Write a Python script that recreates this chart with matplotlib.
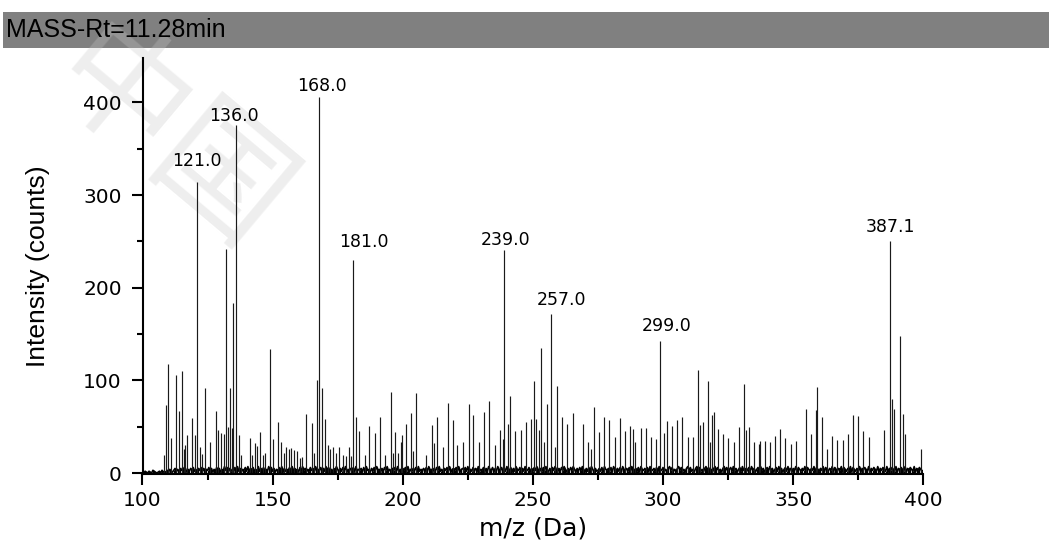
#!/usr/bin/env python
"""Mass spectrum at Rt=11.28 min, redrawn as a stick plot."""

import matplotlib

matplotlib.use("Agg")
import matplotlib.pyplot as plt
import numpy as np
from matplotlib.patches import Rectangle
from matplotlib.ticker import MultipleLocator

TITLE = "MASS-Rt=11.28min"
WATERMARK = "中国"

# labelled peaks (m/z, counts)
label_mz = [121.0, 136.0, 168.0, 181.0, 239.0, 257.0, 299.0, 387.1]
label_int = [314, 375, 406, 230, 241, 172, 142, 250]

# the rest of the stick peaks
peak_mz = [
    108.1, 109.1, 109.9, 111.0, 113.0, 114.0, 115.1, 115.9, 116.3, 117.0,
    119.2, 120.0, 122.2, 123.0, 124.2, 126.0, 128.3, 129.0, 130.1, 131.2,
    132.2, 133.0, 133.8, 134.2, 134.9, 137.2, 138.0, 141.2, 142.0, 143.2,
    144.0, 145.1, 146.3, 147.2, 149.1, 150.0, 152.2, 153.2, 154.2, 155.3,
    156.2, 157.2, 158.2, 159.2, 160.4, 161.4, 163.0, 165.3, 166.0, 167.2,
    169.1, 170.1, 171.3, 172.2, 173.2, 174.2, 175.4, 177.0, 178.1, 179.2,
    180.3, 182.0, 183.3, 185.3, 187.2, 189.2, 191.2, 193.1, 195.3, 196.3,
    197.2, 198.3, 199.2, 199.6, 201.3, 203.2, 204.0, 205.0, 209.1, 211.4,
    212.0, 213.2, 215.3, 217.3, 219.2, 221.0, 223.3, 225.3, 227.0, 229.4,
    231.3, 233.3, 235.3, 237.3, 238.4, 240.3, 241.3, 243.2, 245.3, 247.3,
    249.2, 250.3, 251.3, 252.2, 253.3, 254.2, 255.3, 258.3, 259.4, 261.2,
    263.2, 265.3, 269.4, 271.3, 272.3, 273.5, 275.4, 277.3, 279.2, 281.4,
    283.5, 285.4, 287.4, 288.3, 289.3, 291.4, 293.5, 295.4, 297.4, 300.4,
    301.4, 303.5, 305.4, 307.3, 309.5, 311.4, 313.5, 314.1, 315.2, 317.1,
    318.2, 319.0, 319.4, 321.1, 323.0, 325.0, 327.1, 329.1, 331.1, 332.0,
    333.1, 335.0, 336.9, 337.2, 339.1, 341.0, 343.1, 345.0, 347.0, 349.0,
    351.0, 355.0, 356.9, 358.8, 359.2, 361.0, 363.0, 365.0, 367.0, 369.0,
    370.9, 373.0, 375.0, 377.0, 379.0, 385.0, 387.9, 388.9, 391.0, 392.1,
    393.1, 399.0,
]
peak_int = [
    19, 73, 118, 38, 106, 67, 110, 26, 30, 41,
    59, 41, 28, 21, 92, 33, 67, 47, 43, 42,
    242, 50, 92, 49, 184, 41, 19, 38, 20, 32,
    29, 44, 20, 22, 134, 37, 55, 34, 22, 28,
    26, 27, 25, 24, 16, 17, 64, 54, 22, 100,
    92, 58, 30, 26, 28, 22, 28, 20, 18, 28,
    18, 61, 45, 20, 51, 43, 60, 20, 87, 22,
    44, 22, 33, 41, 53, 65, 24, 86, 20, 52,
    32, 60, 28, 76, 57, 30, 33, 74, 63, 34,
    66, 78, 30, 46, 37, 53, 83, 45, 47, 55,
    58, 99, 58, 46, 135, 34, 74, 28, 94, 61,
    53, 65, 53, 34, 26, 71, 44, 60, 57, 39,
    59, 45, 51, 48, 34, 49, 49, 39, 37, 43,
    56, 51, 57, 60, 39, 39, 111, 52, 55, 99,
    33, 63, 66, 48, 42, 38, 34, 50, 96, 46,
    50, 33, 31, 35, 35, 33, 40, 48, 38, 31,
    35, 69, 42, 68, 93, 60, 26, 40, 36, 36,
    42, 63, 62, 45, 39, 47, 80, 69, 148, 64,
    42, 26,
]

# baseline fuzz, one digit per 0.5 Da from 100 to 400
noise_digits = (
    "10210210321012031203142135241536251425362415362514"
    "36251426351427361524163725143627153624172536142736"
    "25142637152436172534162735142635172436152736142537"
    "41526371425361724351627341526373415263724153627142"
    "53627142536172435162734152637241536271453627145362"
    "71426351724361527436152743615274361527436152743615"
    "26374152637415263741526374152637415263741526374152"
    "35261743526174352617435261743526174352617435261743"
    "62415736241573624157362415736241573624157362415736"
    "14627351462735146273514627351462735146273514627351"
    "53716425371642537164253716425371642537164253716425"
    "27153642715364271536427153642715364271536427153642"
    "3"
)
noise_int = [int(c) for c in noise_digits]
noise_mz = 100 + 0.5 * np.arange(len(noise_int))

# label offsets from the peak tip, in pixels
label_dx = [0, -2, 2, 11, 1, 10, 6, 1]
label_dy = [21, 9, 11, 18, 10, 14, 15, 14]

W, H = 1049, 551
fig = plt.figure(figsize=(W / 100, H / 100), dpi=100)

# title bar
fig.patches.append(
    Rectangle((3 / W, 1 - 48 / H), 1 - 3 / W, 36 / H, transform=fig.transFigure,
              facecolor="#808080", edgecolor="none", zorder=-3)
)
fig.text(6 / W, 1 - 30 / H, TITLE, fontsize=18, family="Liberation Sans", color="black",
         ha="left", va="center", zorder=5)
fig.text(0.16, 0.74, WATERMARK, fontsize=95, family=["Noto Sans CJK SC", "DejaVu Sans"],
         color="#c8c8c8", alpha=0.3, rotation=-40, ha="center", va="center", zorder=-1)

left, right, top, bottom = 142.5, 923.3, 58.3, 474.0
ax = fig.add_axes([left / W, 1 - bottom / H, (right - left) / W, (bottom - top) / H])
ax.patch.set_alpha(0)

ax.plot(noise_mz, noise_int, color="black", linewidth=1.2)
ax.vlines(noise_mz, 0, noise_int, colors="black", linewidth=0.9)
ax.vlines(peak_mz, 0, peak_int, colors="#1a1a1a", linewidth=0.85)
ax.vlines(label_mz, 0, label_int, colors="#1a1a1a", linewidth=0.85)

for mz, inten, dx, dy in zip(label_mz, label_int, label_dx, label_dy):
    ax.annotate(f"{mz:.1f}", (mz, inten), xytext=(dx * 0.72, dy * 0.72),
                textcoords="offset points", ha="center", va="center",
                fontsize=12.5, family="DejaVu Sans")

ax.set_xlim(100, 400)
ax.set_ylim(-1, 447.5)
ax.xaxis.set_major_locator(MultipleLocator(50))
ax.xaxis.set_minor_locator(MultipleLocator(25))
ax.yaxis.set_major_locator(MultipleLocator(100))
ax.yaxis.set_minor_locator(MultipleLocator(50))

for side in ("top", "right"):
    ax.spines[side].set_visible(False)
for side in ("left", "bottom"):
    ax.spines[side].set_linewidth(1.5)

ax.tick_params(which="major", direction="out", length=8, width=1.5, labelsize=14.5)
ax.tick_params(which="minor", direction="out", length=4.5, width=1.5)
ax.tick_params(axis="x", pad=4)
ax.tick_params(axis="y", pad=7)
for lbl in ax.get_xticklabels() + ax.get_yticklabels():
    lbl.set_family("DejaVu Sans")

ax.set_xlabel("m/z (Da)", fontsize=18, family="DejaVu Sans", labelpad=5)
ax.set_ylabel("Intensity (counts)", fontsize=19, family="Liberation Sans", labelpad=24)

fig.savefig("out.png", dpi=100)
